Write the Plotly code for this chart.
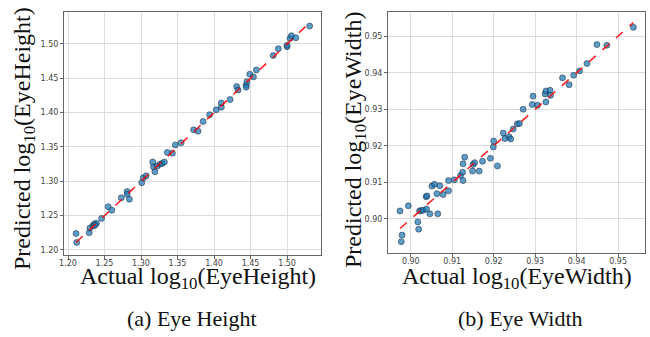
import plotly.graph_objects as go

# ---- Data: Eye Height (log10) ----
height_actual = [1.211, 1.212, 1.229, 1.230, 1.234, 1.236, 1.239, 1.237, 1.246, 1.255,
                 1.260, 1.273, 1.281, 1.281, 1.284, 1.301, 1.303, 1.307, 1.316, 1.317,
                 1.319, 1.322, 1.326, 1.329, 1.332, 1.336, 1.343, 1.347, 1.355, 1.372,
                 1.378, 1.385, 1.394, 1.403, 1.410, 1.410, 1.422, 1.431, 1.433, 1.444,
                 1.444, 1.445, 1.449, 1.454, 1.458, 1.481, 1.488, 1.500, 1.500, 1.504,
                 1.506, 1.512, 1.531]
height_pred = [1.224, 1.211, 1.225, 1.232, 1.235, 1.238, 1.239, 1.236, 1.246, 1.263,
               1.258, 1.276, 1.285, 1.281, 1.274, 1.298, 1.305, 1.308, 1.328, 1.321,
               1.314, 1.322, 1.325, 1.326, 1.328, 1.342, 1.341, 1.353, 1.356, 1.375,
               1.373, 1.387, 1.397, 1.404, 1.408, 1.414, 1.419, 1.438, 1.433, 1.440,
               1.437, 1.445, 1.456, 1.452, 1.462, 1.483, 1.493, 1.496, 1.498, 1.508,
               1.512, 1.509, 1.526]

# ---- Data: Eye Width (log10) ----
width_actual = [0.8974, 0.8994, 0.8979, 0.8977, 0.9017, 0.9019, 0.9021, 0.9025, 0.9030, 0.9038,
                0.9046, 0.9065, 0.9037, 0.9039, 0.9051, 0.9057, 0.9063, 0.9070, 0.9078, 0.9091,
                0.9091, 0.9105, 0.9120, 0.9125, 0.9126, 0.9130, 0.9126, 0.9149, 0.9150, 0.9154,
                0.9165, 0.9173, 0.9192, 0.9199, 0.9200, 0.9209, 0.9223, 0.9227, 0.9237, 0.9241,
                0.9247, 0.9257, 0.9262, 0.9271, 0.9293, 0.9295, 0.9306, 0.9324, 0.9326, 0.9336,
                0.9337, 0.9326, 0.9366, 0.9382, 0.9393, 0.9407, 0.9425, 0.9449, 0.9473, 0.9537]
width_pred = [0.9022, 0.9036, 0.8956, 0.8938, 0.8992, 0.8972, 0.9022, 0.9023, 0.9024, 0.9027,
              0.9014, 0.9014, 0.9061, 0.9063, 0.9090, 0.9095, 0.9069, 0.9091, 0.9067, 0.9077,
              0.9105, 0.9107, 0.9119, 0.9128, 0.9105, 0.9169, 0.9151, 0.9131, 0.9149, 0.9154,
              0.9131, 0.9158, 0.9166, 0.9197, 0.9213, 0.9145, 0.9235, 0.9220, 0.9225, 0.9219,
              0.9246, 0.9260, 0.9261, 0.9300, 0.9313, 0.9336, 0.9311, 0.9342, 0.9350, 0.9352,
              0.9338, 0.9320, 0.9386, 0.9367, 0.9393, 0.9405, 0.9425, 0.9477, 0.9475, 0.9524]

height_ticks = [1.20, 1.25, 1.30, 1.35, 1.40, 1.45, 1.50]
width_ticks = [0.90, 0.91, 0.92, 0.93, 0.94, 0.95]

W, H = 650, 337
SERIF = "Liberation Serif, Times New Roman, serif"
TICKFONT = dict(family="DejaVu Sans, sans-serif", size=8, color="#444")

marker = dict(size=6, color="rgba(31,119,180,0.72)",
              line=dict(color="rgba(20,35,55,0.85)", width=0.6))
redline = dict(color="rgba(255,0,0,0.9)", width=1.5, dash="dash")

fig = go.Figure()
fig.add_trace(go.Scatter(x=height_actual, y=height_pred, mode="markers", marker=marker,
                         xaxis="x", yaxis="y", showlegend=False))
hmin, hmax = min(height_actual), max(height_actual)
fig.add_trace(go.Scatter(x=[hmin, hmax], y=[hmin, hmax], mode="lines", line=redline,
                         xaxis="x", yaxis="y", showlegend=False))
fig.add_trace(go.Scatter(x=width_actual, y=width_pred, mode="markers", marker=marker,
                         xaxis="x2", yaxis="y2", showlegend=False))
wmin, wmax = min(width_actual), max(width_actual)
fig.add_trace(go.Scatter(x=[wmin, wmax], y=[wmin, wmax], mode="lines", line=redline,
                         xaxis="x2", yaxis="y2", showlegend=False))

def ax(domain, rng, ticks, anchor, standoff=0):
    return dict(domain=domain, range=rng, tickvals=ticks, tickformat=".2f",
                showgrid=True, gridcolor="#dcdcdc", gridwidth=1, zeroline=False,
                showline=True, linecolor="#666", linewidth=1, mirror=True,
                ticks="outside", ticklen=3, tickcolor="#666", tickfont=TICKFONT,
                ticklabelstandoff=standoff, anchor=anchor, automargin=False)

fig.update_layout(
    template="none",
    width=W, height=H, margin=dict(l=0, r=0, t=0, b=0, pad=0),
    paper_bgcolor="white", plot_bgcolor="white",
    xaxis=ax([64 / W, 321 / W], [1.1945, 1.5465], height_ticks, "y", -3),
    yaxis=ax([(H - 255) / H, (H - 12) / H], [1.1927, 1.5465], height_ticks, "x"),
    xaxis2=ax([388 / W, 645 / W], [0.8945, 0.9565], width_ticks, "y2", -3),
    yaxis2=ax([(H - 253) / H, (H - 12) / H], [0.8907, 0.9566], width_ticks, "x2"),
)

def ann(text, xpx, ypx, size, angle=0):
    fig.add_annotation(text=text, x=xpx / W, y=1 - ypx / H, xref="paper", yref="paper",
                       showarrow=False, textangle=angle, xanchor="center", yanchor="middle",
                       font=dict(family=SERIF, size=size, color="#111"))

ann("Actual log<sub>10</sub>(EyeHeight)", 198, 278, 24)
ann("Predicted log<sub>10</sub>(EyeHeight)", 24, 139, 24, -90)
ann("Actual log<sub>10</sub>(EyeWidth)", 517, 278, 24)
ann("Predicted log<sub>10</sub>(EyeWidth)", 355, 140, 24, -90)
ann("(a) Eye Height", 192, 318, 22)
ann("(b) Eye Width", 520, 318, 22)

fig.write_html("out.html", config={"displayModeBar": False},
               post_script="document.body.style.margin='0';document.body.style.overflow='hidden';")
